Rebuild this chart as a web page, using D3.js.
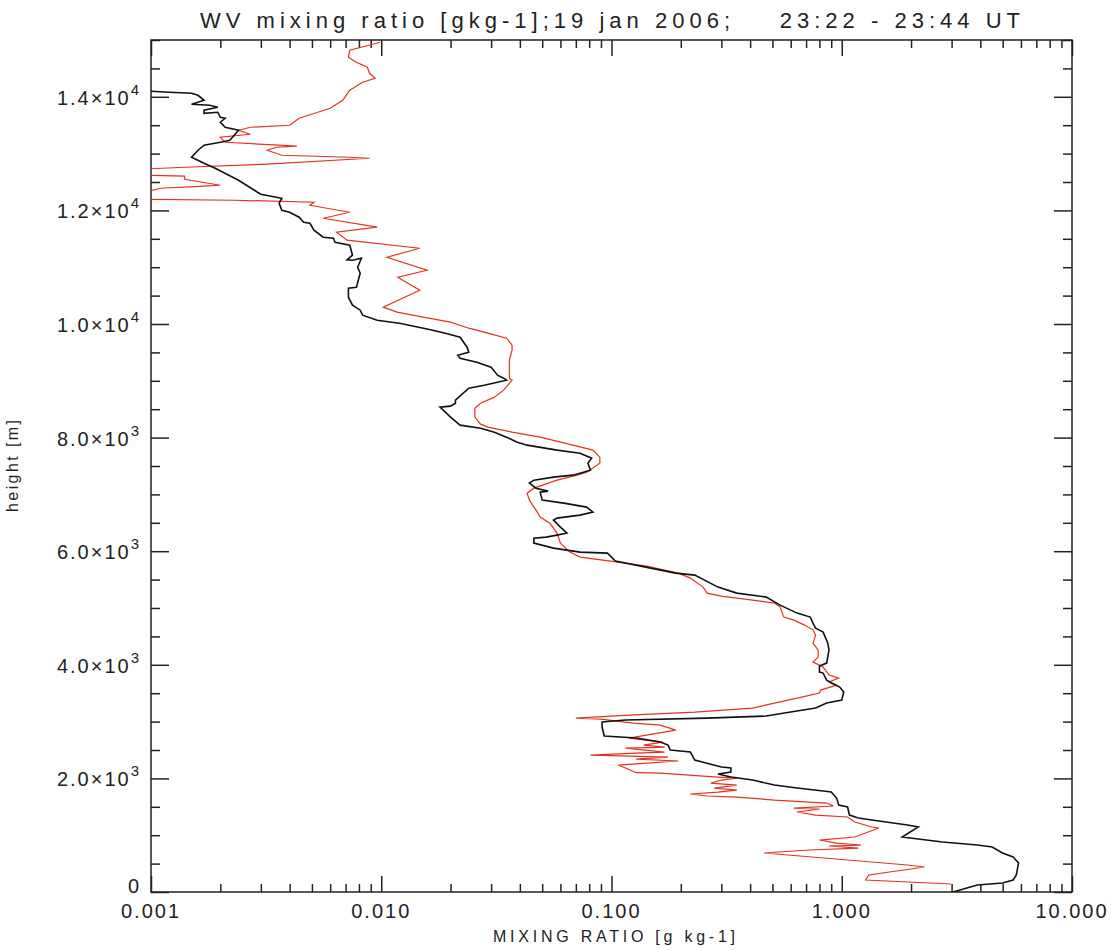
<!DOCTYPE html>
<html>
<head>
<meta charset="utf-8">
<script src="https://cdn.jsdelivr.net/npm/d3@7"></script>
<style>
body { margin: 0; background: #fff; }
text { font-family: "Liberation Sans", Arial, sans-serif; fill: #222; }
</style>
</head>
<body>
<div id="chart"></div>
<script>
// [height m, mixing ratio g/kg], bottom to top
const blackProfile = [
[0,3.04],[123,3.88],[158,4.99],[211,5.55],[299,5.73],[511,5.86],[616,5.55],[687,4.99],[792,4.50],[827,3.88],
[880,2.74],[968,1.83],[1144,2.15],[1179,1.93],[1267,1.35],[1302,1.18],[1355,1.08],[1496,1.06],[1531,0.97],[1654,0.95],
[1760,0.90],[1778,0.83],[1830,0.64],[1883,0.51],[1971,0.41],[2024,0.33],[2077,0.29],[2112,0.33],[2182,0.33],[2200,0.30],
[2323,0.23],[2464,0.22],[2499,0.18],[2587,0.176],[2640,0.163],[2710,0.128],[2746,0.093],[2904,0.091],[2992,0.091],[3027,0.115],
[3062,0.26],[3098,0.47],[3168,0.60],[3238,0.77],[3326,0.86],[3379,1.00],[3520,1.02],[3608,0.98],[3661,0.92],[3731,0.86],
[3854,0.83],[3872,0.80],[3978,0.80],[4030,0.86],[4259,0.88],[4382,0.87],[4576,0.83],[4646,0.77],[4734,0.75],[4840,0.73],
[4910,0.64],[5051,0.54],[5192,0.47],[5262,0.35],[5368,0.29],[5579,0.23],[5614,0.19],[5702,0.148],[5826,0.104],[5966,0.096],
[5984,0.073],[6054,0.056],[6142,0.046],[6230,0.046],[6248,0.052],[6283,0.058],[6318,0.064],[6424,0.060],[6547,0.056],[6582,0.058],
[6635,0.073],[6688,0.083],[6776,0.078],[6846,0.062],[6899,0.050],[7040,0.049],[7058,0.053],[7110,0.047],[7198,0.044],[7251,0.046],
[7304,0.056],[7339,0.068],[7427,0.081],[7550,0.079],[7638,0.082],[7726,0.073],[7779,0.058],[7867,0.043],[7920,0.039],[8008,0.035],
[8096,0.031],[8166,0.027],[8219,0.022],[8360,0.020],[8536,0.018],[8554,0.020],[8606,0.021],[8659,0.021],[8870,0.024],[8923,0.028],
[9011,0.035],[9046,0.034],[9099,0.032],[9240,0.030],[9328,0.026],[9398,0.022],[9451,0.0215],[9504,0.024],[9592,0.0236],[9768,0.022],
[9838,0.019],[9909,0.016],[10014,0.012],[10067,0.0096],[10155,0.0083],[10243,0.0081],[10331,0.0075],[10472,0.0072],[10630,0.0072],[10648,0.0078],
[10894,0.0081],[11000,0.0079],[11158,0.0082],[11123,0.0075],[11130,0.0071],[11211,0.0075],[11299,0.0074],[11387,0.0073],[11440,0.0063],[11510,0.0062],
[11528,0.0056],[11651,0.0051],[11774,0.0049],[11792,0.0046],[11880,0.0044],[11968,0.0040],[12003,0.0037],[12126,0.0036],[12214,0.0037],[12232,0.0035],
[12285,0.0030],[12320,0.0029],[12531,0.0024],[12742,0.0019],[12830,0.0017],[12936,0.0015],[13059,0.0016],[13147,0.0017],[13200,0.0020],[13235,0.0022],
[13411,0.0024],[13464,0.0021],[13552,0.0020],[13622,0.0021],[13640,0.0020],[13728,0.00195],[13710,0.0017],[13763,0.0017],[13816,0.00195],[13851,0.0018],
[13869,0.0015],[13939,0.0017],[14027,0.0016],[14062,0.0015],[14080,0.0012],[14098,0.0010]
];

const redProfile = [
[141,2.98],[211,1.27],[299,1.31],[440,2.29],[475,1.93],[528,1.35],[687,0.46],[739,0.72],[774,1.18],[810,0.88],
[827,1.21],[862,0.95],[915,0.80],[968,1.14],[1126,1.45],[1144,1.35],[1232,1.14],[1320,1.06],[1355,0.77],[1408,0.64],
[1461,0.80],[1478,0.62],[1514,0.92],[1566,0.86],[1619,0.51],[1672,0.35],[1690,0.26],[1725,0.22],[1760,0.29],[1795,0.35],
[1830,0.28],[1883,0.35],[1918,0.27],[1971,0.30],[2006,0.35],[2024,0.29],[2094,0.163],[2100,0.128],[2182,0.115],[2235,0.107],
[2306,0.195],[2341,0.128],[2376,0.176],[2411,0.081],[2446,0.128],[2464,0.17],[2534,0.115],[2552,0.17],[2587,0.138],[2640,0.167],
[2710,0.119],[2851,0.19],[2939,0.163],[2974,0.124],[3045,0.090],[3062,0.070],[3115,0.119],[3168,0.23],[3238,0.41],[3432,0.67],
[3502,0.80],[3555,0.81],[3643,0.95],[3696,0.88],[3766,0.97],[3819,0.88],[3960,0.83],[4048,0.75],[4136,0.79],[4259,0.79],
[4382,0.75],[4523,0.77],[4611,0.75],[4699,0.69],[4787,0.62],[4840,0.56],[5016,0.54],[5086,0.51],[5157,0.38],[5210,0.30],
[5262,0.26],[5368,0.25],[5526,0.22],[5614,0.195],[5738,0.142],[5826,0.099],[5861,0.085],[5896,0.073],[5984,0.066],[6142,0.060],
[6318,0.058],[6494,0.054],[6600,0.049],[6723,0.047],[6899,0.044],[7022,0.043],[7110,0.046],[7251,0.058],[7339,0.071],[7392,0.078],
[7550,0.089],[7656,0.089],[7779,0.083],[7867,0.068],[8008,0.049],[8096,0.037],[8184,0.029],[8237,0.027],[8360,0.0255],[8518,0.0255],
[8606,0.027],[8712,0.031],[8835,0.034],[9011,0.037],[9046,0.036],[9363,0.036],[9539,0.037],[9627,0.037],[9750,0.035],[9838,0.029],
[9926,0.024],[10032,0.020],[10120,0.0152],[10208,0.0117],[10296,0.0102],[10595,0.0147],[10824,0.0118],[10947,0.0158],[11176,0.0106],[11334,0.0147],
[11475,0.0071],[11616,0.0064],[11704,0.0096],[11862,0.0056],[11968,0.0073],[12091,0.0049],[12144,0.0051],[12179,0.0023],[12197,0.0009],[12302,0.0009],
[12390,0.0011],[12426,0.0017],[12443,0.0020],[12549,0.0014],[12602,0.0014],[12619,0.0009],[12725,0.0009],[12760,0.0014],[12813,0.0032],[12918,0.0089],
[12936,0.0073],[12971,0.0037],[13059,0.0032],[13112,0.0035],[13130,0.0043],[13200,0.0021],[13288,0.0020],[13341,0.0027],[13411,0.0024],[13464,0.0027],
[13499,0.0040],[13622,0.0044],[13728,0.0053],[13798,0.0060],[13939,0.0068],[14115,0.0073],[14256,0.0083],[14326,0.0094],[14414,0.0089],[14520,0.0087],
[14608,0.0078],[14696,0.0072],[14819,0.0073],[14960,0.0099]
];

const xTickValues = [0.001, 0.01, 0.1, 1, 10];
const xTickLabels = ["0.001", "0.010", "0.100", "1.000", "10.000"];
const yTickValues = [0, 2000, 4000, 6000, 8000, 10000, 12000, 14000];
const yTickMant = ["0", "2.0×10", "4.0×10", "6.0×10", "8.0×10", "1.0×10", "1.2×10", "1.4×10"];
const yTickExp = ["", "3", "3", "3", "3", "4", "4", "4"];

const titleText = "WV mixing ratio [gkg-1];19 jan 2006;    23:22 - 23:44 UT";
const xTitle = "MIXING RATIO [g kg-1]";
const yTitle = "height [m]";

const W = 1111, H = 950;
const m = {left: 151, right: 1072, top: 40, bottom: 892};

const x = d3.scaleLog().domain([0.001, 10]).range([m.left, m.right]);
const y = d3.scaleLinear().domain([0, 15000]).range([m.bottom, m.top]);

const xMinor = [];
xTickValues.slice(0, -1).forEach(d => { for (let k = 2; k <= 9; k++) xMinor.push(d * k); });
const yMinor = d3.range(0, 15001, 500).filter(v => v % 2000 !== 0);

const svg = d3.select("#chart").append("svg")
    .attr("width", W).attr("height", H);

svg.append("defs").append("clipPath").attr("id", "plotclip")
    .append("rect")
    .attr("x", m.left).attr("y", m.top)
    .attr("width", m.right - m.left).attr("height", m.bottom - m.top);

// ticks, all pointing inward
var tickAxis = function(gen, tx, ty, vals, size){
    let g = svg.append("g")
        .attr("transform", `translate(${tx},${ty})`)
        .call(gen.tickValues(vals).tickSize(-size).tickFormat(""));
    g.select(".domain").remove();
    g.selectAll(".tick line").attr("stroke", "#222").attr("stroke-width", 1.5);
};
tickAxis(d3.axisBottom(x), 0, m.bottom, xTickValues, 16);
tickAxis(d3.axisBottom(x), 0, m.bottom, xMinor, 8);
tickAxis(d3.axisTop(x), 0, m.top, xTickValues, 16);
tickAxis(d3.axisTop(x), 0, m.top, xMinor, 8);
tickAxis(d3.axisLeft(y), m.left, 0, yTickValues, 18);
tickAxis(d3.axisLeft(y), m.left, 0, yMinor, 9);
tickAxis(d3.axisRight(y), m.right, 0, yTickValues, 18);
tickAxis(d3.axisRight(y), m.right, 0, yMinor, 9);

svg.append("rect")
    .attr("x", m.left).attr("y", m.top)
    .attr("width", m.right - m.left).attr("height", m.bottom - m.top)
    .attr("fill", "none").attr("stroke", "#222").attr("stroke-width", 1.5);

const line = d3.line()
    .x(d => x(d[1]))
    .y(d => y(d[0]));

const lines = svg.append("g").attr("clip-path", "url(#plotclip)");
lines.append("path").datum(redProfile)
    .attr("d", line)
    .attr("fill", "none").attr("stroke", "#e2331f").attr("stroke-width", 1.2);
lines.append("path").datum(blackProfile)
    .attr("d", line)
    .attr("fill", "none").attr("stroke", "#111").attr("stroke-width", 1.6);

// x tick labels
svg.append("g").selectAll("text")
    .data(xTickValues)
    .enter().append("text")
    .attr("x", d => x(d))
    .attr("y", 918)
    .attr("text-anchor", "middle")
    .style("font-size", "20px")
    .style("letter-spacing", "2px")
    .text((d, i) => xTickLabels[i]);

// y tick labels with exponent; the zero label sits just above the axis
let yl = svg.append("g").selectAll("text")
    .data(yTickValues)
    .enter().append("text")
    .attr("x", 141)
    .attr("y", d => Math.min(y(d) + 8, 893))
    .attr("text-anchor", "end")
    .style("font-size", "20px")
    .style("letter-spacing", "2px");
yl.append("tspan").text((d, i) => yTickMant[i]);
yl.append("tspan")
    .attr("dy", -10)
    .style("font-size", "15px")
    .text((d, i) => yTickExp[i]);

svg.append("text")
    .attr("x", 610).attr("y", 28)
    .attr("text-anchor", "middle")
    .attr("textLength", 820).attr("lengthAdjust", "spacing")
    .style("font-size", "22px")
    .style("white-space", "pre")
    .text(titleText);

svg.append("text")
    .attr("x", 614).attr("y", 942)
    .attr("text-anchor", "middle")
    .attr("textLength", 242).attr("lengthAdjust", "spacing")
    .style("font-size", "16px")
    .text(xTitle);

svg.append("text")
    .attr("transform", "translate(18,466) rotate(-90)")
    .attr("text-anchor", "middle")
    .attr("textLength", 92).attr("lengthAdjust", "spacing")
    .style("font-size", "16px")
    .text(yTitle);
</script>
</body>
</html>
